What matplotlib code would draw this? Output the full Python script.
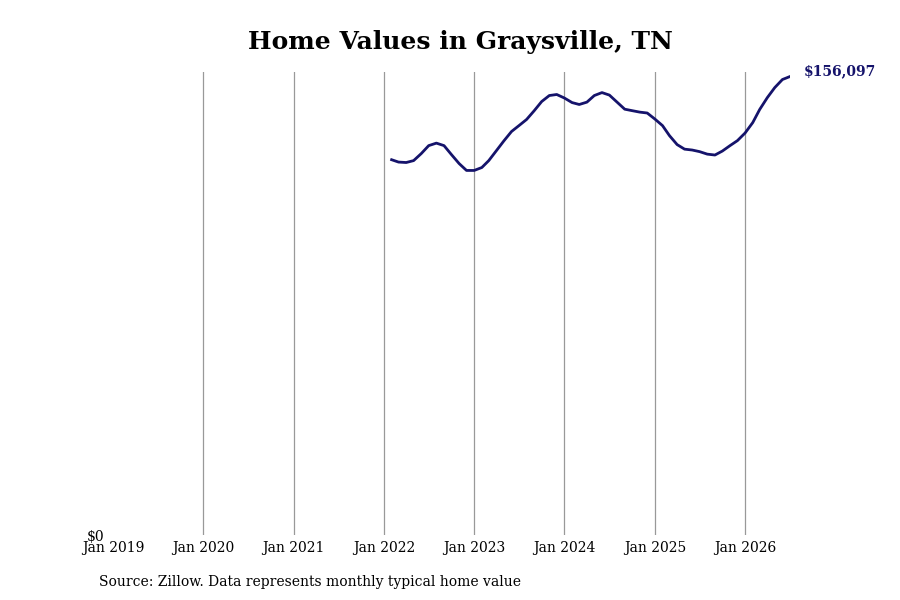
import matplotlib
matplotlib.use('Agg')
import matplotlib.pyplot as plt
import matplotlib.dates as mdates
import pandas as pd

# Data (monthly typical home value)
start_month = '2022-02-01'
home_values = [
    127800, 127000, 126850, 127500, 129900, 132600, 133450, 132600, 129550, 126500, 124150,
    124150, 125150, 127500, 130900, 134200, 137400, 139400, 141500, 144500, 147600, 149650, 150000,
    148800, 147250, 146600, 147400, 149650, 150650, 149800, 147400, 145000, 144500, 144000, 143700,
    141650, 139400, 136000, 132950, 131400, 131100, 130550, 129700, 129400, 130750, 132600, 134300,
    136900, 140450, 144900, 148950, 152350, 155100, 156097,
]
dates = pd.date_range(start_month, periods=len(home_values), freq='MS')
tick_years = list(range(2019, 2027))
line_color = '#15136b'

plt.rcParams['font.family'] = ['DejaVu Serif']

fig = plt.figure(figsize=(9, 6), dpi=100)
ax = fig.add_axes([0.1256, 0.108, 0.752, 0.772])

ax.plot(dates, home_values, color=line_color, linewidth=2)

ax.set_xlim(pd.Timestamp('2019-01-01'), dates[-1])
ax.set_ylim(0, max(home_values) * 1.01)

ticks = [pd.Timestamp(f'{y}-01-01') for y in tick_years]
ax.set_xticks(ticks)
ax.xaxis.set_major_formatter(mdates.DateFormatter('Jan %Y'))
ax.set_yticks([0])
ax.set_yticklabels(['$0'])
ax.tick_params(axis='both', length=0, labelsize=10)
ax.tick_params(axis='x', pad=4)
ax.tick_params(axis='y', pad=6)

# vertical grid lines, none at the left edge
for t in ticks[1:]:
    ax.axvline(t, color='#999999', linewidth=0.9, zorder=0)

for s in ax.spines.values():
    s.set_visible(False)

# end label
ax.annotate(f'${home_values[-1]:,}', xy=(dates[-1], home_values[-1]),
            xytext=(10, 4), textcoords='offset points', va='center', ha='left',
            fontsize=10, fontweight='bold', color=line_color, annotation_clip=False)

fig.text(0.5115, 0.93, 'Home Values in Graysville, TN', ha='center', va='center',
         fontsize=18, fontweight='bold')
fig.text(0.11, 0.03, 'Source: Zillow. Data represents monthly typical home value',
         ha='left', va='center', fontsize=10)

fig.savefig('out.png', dpi=100)
